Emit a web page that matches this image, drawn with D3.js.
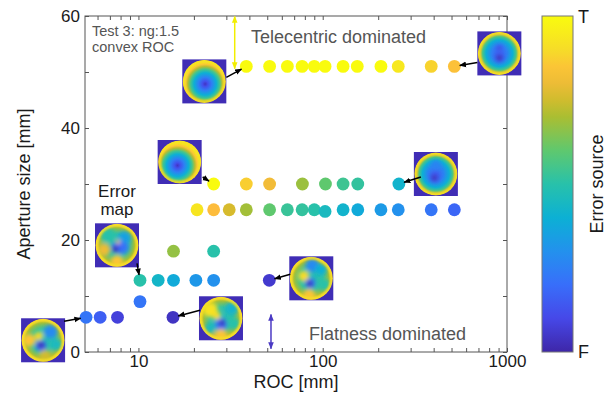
<!DOCTYPE html>
<html>
<head>
<meta charset="utf-8">
<script src="https://cdn.jsdelivr.net/npm/d3@7"></script>
<style>
body { margin: 0; background: #fff; }
svg { display: block; font-family: "Liberation Sans", Arial, sans-serif; }
</style>
</head>
<body>
<div id="chart"></div>
<script>
// measured points: ROC [mm], aperture size [mm], error source (0 = flatness F, 1 = telecentric T)
let roc = [
    38.5, 51.5, 64.3, 77.3, 90, 103, 129, 154, 207, 257, 388, 518,
    25.6, 38.5, 51.5, 77.6, 103.5, 129, 155, 259,
    20.8, 25.6, 31.1, 38.5, 51.5, 64.3, 77.3, 90, 103, 129, 155, 207, 257, 388, 518,
    15.5, 25.6,
    10.2, 12.8, 15.5, 20.5, 25.6, 51.3,
    10.2,
    5.2, 6.2, 7.7, 15.4
];
let aperture = [
    51, 51, 51, 51, 51, 51, 51, 51, 51, 51, 51, 51,
    30, 30, 30, 30, 30, 30, 30, 30,
    25.4, 25.4, 25.4, 25.4, 25.4, 25.4, 25.4, 25.4, 25.1, 25.4, 25.4, 25.4, 25.4, 25.4, 25.4,
    18, 18,
    12.8, 12.8, 12.8, 12.8, 12.8, 12.8,
    9,
    6.2, 6.2, 6.2, 6.2
];
let source = [
    1, 1, 1, 1, 1, 1, 1, 1, 1, 0.94, 0.88, 0.84,
    1, 0.87, 0.81, 0.68, 0.6, 0.54, 0.52, 0.42,
    0.93, 0.83, 0.76, 0.69, 0.6, 0.53, 0.52, 0.5, 0.45, 0.42, 0.38, 0.33, 0.3, 0.22, 0.18,
    0.67, 0.5,
    0.5, 0.43, 0.38, 0.32, 0.3, 0.06,
    0.22,
    0.22, 0.16, 0.08, 0.04
];

let xLabelTicks = [10, 100, 1000];
let yLabelTicks = [0, 20, 40, 60];

// parula colour map
let parulaStops = [0, 0.1, 0.2, 0.3, 0.4, 0.5, 0.6, 0.7, 0.76, 0.83, 0.9, 1];
let parulaColors = ["#3e26a8", "#4648e8", "#386efa", "#2391ed", "#0cb0d4", "#28c1aa",
                    "#5fc86e", "#aabe32", "#d7bb2d", "#fdbc3c", "#f6dc28", "#f9fb0e"];

// error-map thumbnails: the point each one points to, and what it looks like
let insetRoc = [38.5, 518, 25.6, 259, 10.2, 5.2, 15.4, 51.3];
let insetAperture = [51, 51, 30, 30, 12.8, 6.2, 6.2, 12.8];
let insetKind = ["bowl", "twin", "bowl", "twin", "mixed", "mixed", "mixed", "mixed"];
let insetFocus = [[0.52, 0.56], [0.5, 0.5], [0.45, 0.58], [0.5, 0.5], [0.5, 0.5], [0.5, 0.5], [0.5, 0.5], [0.5, 0.5]];
let insetBlobs = [
    [],
    [[0, -0.22, 0.2, 0.2], [0, 0.2, 0.22, 0.14], [0, 0.2, 0.13, 0.01], [0, -0.24, 0.11, 0.07]],
    [],
    [[0, -0.42, 0.22, 0.26], [-0.05, 0.15, 0.24, 0.15], [-0.07, 0.18, 0.13, 0.01]],
    [[-0.4, -0.45, 0.35, 0.5], [0.35, -0.35, 0.32, 0.35], [0.25, 0.1, 0.3, 0.22], [0, 0.1, 0.25, 0.18],
     [-0.08, 0.18, 0.14, 0.02], [-0.6, 0.2, 0.3, 0.8], [0, 0.75, 0.3, 0.85], [0.05, -0.15, 0.1, 0.85]],
    [[0.35, -0.4, 0.32, 0.28], [0.6, 0.2, 0.28, 0.45], [-0.2, -0.2, 0.2, 0.9], [-0.65, 0, 0.3, 0.85],
     [-0.1, 0.25, 0.25, 0.18], [-0.09, 0.22, 0.14, 0.01], [0.1, 0.75, 0.3, 0.75]],
    [[-0.5, -0.4, 0.35, 0.92], [-0.2, -0.12, 0.2, 0.9], [0.5, -0.45, 0.32, 0.42], [0.6, 0.25, 0.28, 0.5],
     [0, 0.28, 0.28, 0.2], [0.05, 0.22, 0.13, 0.01], [0, 0.8, 0.3, 0.85], [-0.5, 0.45, 0.25, 0.45]],
    [[0.05, -0.6, 0.32, 0.28], [0.45, -0.4, 0.28, 0.4], [-0.35, -0.1, 0.26, 0.9], [-0.05, 0.22, 0.24, 0.2],
     [-0.07, 0.24, 0.13, 0.01], [0.6, 0.3, 0.28, 0.5], [-0.1, 0.8, 0.3, 0.85]]
];
// layout of the thumbnails relative to their point (pixels): image centre, arrow start
let insetOffset = [[-42, 15], [45, -13], [-34, -22], [37, -10], [-23, -35], [-43, 23], [48, 1], [42, -2]];
let arrowStart = [[-20, 11], [23, -4], [-11, -7], [22, -7], [-3, -17], [-22, 4], [27, -7], [21, -6]];

let w = 612;
let h = 395;
let padL = 85, padR = 507, padT = 16, padB = 352;

let svg = d3.select("#chart").append("svg")
    .attr("width", w)
    .attr("height", h);
let defs = svg.append("defs");

let xScale = d3.scaleLog().domain([5.13, 1000]).range([padL, padR]);
let yScale = d3.scaleLinear().domain([0, 60]).range([padB, padT]);
let color = d3.scaleLinear().domain(parulaStops).range(parulaColors)
    .interpolate(d3.interpolateRgb).clamp(true);

// all log ticks (minor ones without labels)
let logTicks = [];
[1, 10, 100].forEach(function (dec) {
    for (let k = 1; k < 10; k++) {
        let v = dec * k;
        if (v >= 5.13 && v <= 1000) logTicks.push(v);
    }
});
logTicks.push(1000);

let axisColor = "#555";

function styleAxis(g) {
    g.select(".domain").remove();
    g.selectAll(".tick line").attr("stroke", axisColor);
    g.selectAll(".tick text").attr("fill", "#1a1a1a").attr("font-size", 17);
}

svg.append("g")
    .attr("transform", "translate(0," + padB + ")")
    .call(d3.axisBottom(xScale).tickValues(logTicks).tickSize(-4).tickSizeOuter(0).tickPadding(3)
        .tickFormat(d => xLabelTicks.includes(d) ? d : ""))
    .call(styleAxis);
svg.append("g")
    .attr("transform", "translate(0," + padT + ")")
    .call(d3.axisTop(xScale).tickValues(logTicks).tickSize(-4).tickSizeOuter(0).tickFormat(""))
    .call(styleAxis);
svg.append("g")
    .attr("transform", "translate(" + padL + ",0)")
    .call(d3.axisLeft(yScale).tickValues(d3.range(0, 61, 10)).tickSize(-4).tickSizeOuter(0).tickPadding(5)
        .tickFormat(d => yLabelTicks.includes(d) ? d : ""))
    .call(styleAxis);
svg.append("g")
    .attr("transform", "translate(" + padR + ",0)")
    .call(d3.axisRight(yScale).tickValues(d3.range(0, 61, 10)).tickSize(-4).tickSizeOuter(0).tickFormat(""))
    .call(styleAxis);

svg.append("rect")
    .attr("x", padL).attr("y", padT)
    .attr("width", padR - padL).attr("height", padB - padT)
    .attr("fill", "none")
    .attr("stroke", axisColor)
    .attr("stroke-width", 1);

// axis titles
svg.append("text")
    .attr("x", (padL + padR) / 2)
    .attr("y", 388)
    .attr("text-anchor", "middle")
    .attr("font-size", 18)
    .attr("fill", "#1a1a1a")
    .text("ROC [mm]");
svg.append("text")
    .attr("transform", "translate(30," + (padT + padB) / 2 + ") rotate(-90)")
    .attr("text-anchor", "middle")
    .attr("font-size", 18)
    .attr("fill", "#1a1a1a")
    .text("Aperture size [mm]");

// markers
function headMarker(id, col) {
    defs.append("marker")
        .attr("id", id)
        .attr("viewBox", "0 -5 10 10")
        .attr("refX", 9).attr("refY", 0)
        .attr("markerUnits", "userSpaceOnUse")
        .attr("markerWidth", 7).attr("markerHeight", 7)
        .attr("orient", "auto-start-reverse")
        .append("path").attr("d", "M0,-4L10,0L0,4Z").attr("fill", col);
}
headMarker("headBlack", "#000");
headMarker("headYellow", "#f2ee00");
headMarker("headPurple", "#4b3ac4");

// region arrows
svg.append("line")
    .attr("x1", xScale(33.3)).attr("x2", xScale(33.3))
    .attr("y1", yScale(59.9)).attr("y2", yScale(50.6))
    .attr("stroke", "#f2ee00").attr("stroke-width", 1.5)
    .attr("marker-start", "url(#headYellow)")
    .attr("marker-end", "url(#headYellow)");
svg.append("line")
    .attr("x1", xScale(52.4)).attr("x2", xScale(52.4))
    .attr("y1", yScale(6.7)).attr("y2", yScale(0.6))
    .attr("stroke", "#4b3ac4").attr("stroke-width", 1.5)
    .attr("marker-start", "url(#headPurple)")
    .attr("marker-end", "url(#headPurple)");

// dots
let points = roc.map((r, i) => ({ roc: r, ap: aperture[i], src: source[i] }));
svg.append("g").selectAll("circle")
    .data(points)
    .enter()
    .append("circle")
    .attr("cx", d => xScale(d.roc))
    .attr("cy", d => yScale(d.ap))
    .attr("r", 6.4)
    .attr("fill", d => color(d.src));

// thumbnails of error maps
let blur = defs.append("filter").attr("id", "blur")
    .attr("x", "-50%").attr("y", "-50%").attr("width", "200%").attr("height", "200%");
blur.append("feGaussianBlur").attr("stdDeviation", 2);
let blurSmall = defs.append("filter").attr("id", "blurSmall")
    .attr("x", "-20%").attr("y", "-20%").attr("width", "140%").attr("height", "140%");
blurSmall.append("feGaussianBlur").attr("stdDeviation", 0.8);

let gradStops = {
    bowl: [[0, 0.04], [0.12, 0.12], [0.3, 0.25], [0.5, 0.4], [0.65, 0.55], [0.78, 0.72], [0.88, 0.85], [1, 0.93]],
    twin: [[0, 0.16], [0.35, 0.26], [0.6, 0.4], [0.75, 0.56], [0.87, 0.76], [1, 0.92]],
    mixed: [[0, 0.45], [0.5, 0.52], [0.8, 0.7], [0.92, 0.86], [1, 0.93]]
};

let size = 44;
let rad = 21.5;
insetRoc.forEach(function (r, i) {
    let px = xScale(r), py = yScale(insetAperture[i]);
    let id = "inset" + i;

    let grad = defs.append("radialGradient").attr("id", id + "g")
        .attr("cx", insetFocus[i][0]).attr("cy", insetFocus[i][1]).attr("r", 0.52);
    gradStops[insetKind[i]].forEach(s => grad.append("stop")
        .attr("offset", s[0]).attr("stop-color", color(s[1])));
    defs.append("clipPath").attr("id", id + "c")
        .append("circle").attr("r", rad);

    let g = svg.append("g")
        .attr("transform", "translate(" + (px + insetOffset[i][0]) + "," + (py + insetOffset[i][1]) + ")");
    g.append("rect")
        .attr("x", -size / 2).attr("y", -size / 2)
        .attr("width", size).attr("height", size)
        .attr("fill", color(0.02));
    let inner = g.append("g").attr("clip-path", "url(#" + id + "c)");
    inner.append("circle").attr("r", rad).attr("fill", "url(#" + id + "g)");
    let blobs = inner.append("g").attr("filter", "url(#blur)");
    insetBlobs[i].forEach(b => blobs.append("circle")
        .attr("cx", b[0] * rad).attr("cy", b[1] * rad)
        .attr("r", b[2] * rad).attr("fill", color(b[3])));
    inner.append("circle").attr("r", rad - 1.2)
        .attr("fill", "none")
        .attr("stroke", color(0.92))
        .attr("stroke-width", 2.5)
        .attr("filter", "url(#blurSmall)");

    // arrow from image towards the point
    let sx = px + arrowStart[i][0], sy = py + arrowStart[i][1];
    let dx = px - sx, dy = py - sy, len = Math.sqrt(dx * dx + dy * dy);
    let stop = 5.5;
    svg.append("line")
        .attr("x1", sx).attr("y1", sy)
        .attr("x2", px - dx / len * stop).attr("y2", py - dy / len * stop)
        .attr("stroke", "#000").attr("stroke-width", 1.5)
        .attr("marker-end", "url(#headBlack)");
});

// notes
let note = svg.append("text")
    .attr("font-size", 14.5)
    .attr("fill", "#555");
note.append("tspan").attr("x", 92).attr("y", 36).text("Test 3: ng:1.5");
note.append("tspan").attr("x", 92).attr("y", 52).text("convex ROC");

svg.append("text")
    .attr("x", 251).attr("y", 43)
    .attr("font-size", 18).attr("fill", "#555")
    .text("Telecentric dominated");
svg.append("text")
    .attr("x", 309).attr("y", 340)
    .attr("font-size", 18).attr("fill", "#555")
    .text("Flatness dominated");

let em = svg.append("text")
    .attr("font-size", 17).attr("fill", "#1a1a1a")
    .attr("text-anchor", "middle");
em.append("tspan").attr("x", 117).attr("y", 197).text("Error");
em.append("tspan").attr("x", 117).attr("y", 215).text("map");

// colour bar
let cbX = 542, cbW = 31;
let cbGrad = defs.append("linearGradient").attr("id", "cbar")
    .attr("x1", 0).attr("y1", 1).attr("x2", 0).attr("y2", 0);
d3.range(0, 1.0001, 0.05).forEach(t => cbGrad.append("stop")
    .attr("offset", t).attr("stop-color", color(t)));
svg.append("rect")
    .attr("x", cbX).attr("y", padT)
    .attr("width", cbW).attr("height", padB - padT)
    .attr("fill", "url(#cbar)")
    .attr("stroke", "#777").attr("stroke-width", 1);
svg.append("text")
    .attr("x", cbX + cbW + 5).attr("y", 23)
    .attr("font-size", 18).attr("fill", "#1a1a1a")
    .text("T");
svg.append("text")
    .attr("x", cbX + cbW + 5).attr("y", 358)
    .attr("font-size", 18).attr("fill", "#1a1a1a")
    .text("F");
svg.append("text")
    .attr("transform", "translate(603," + (padT + padB) / 2 + ") rotate(-90)")
    .attr("text-anchor", "middle")
    .attr("font-size", 18).attr("fill", "#1a1a1a")
    .text("Error source");
</script>
</body>
</html>
